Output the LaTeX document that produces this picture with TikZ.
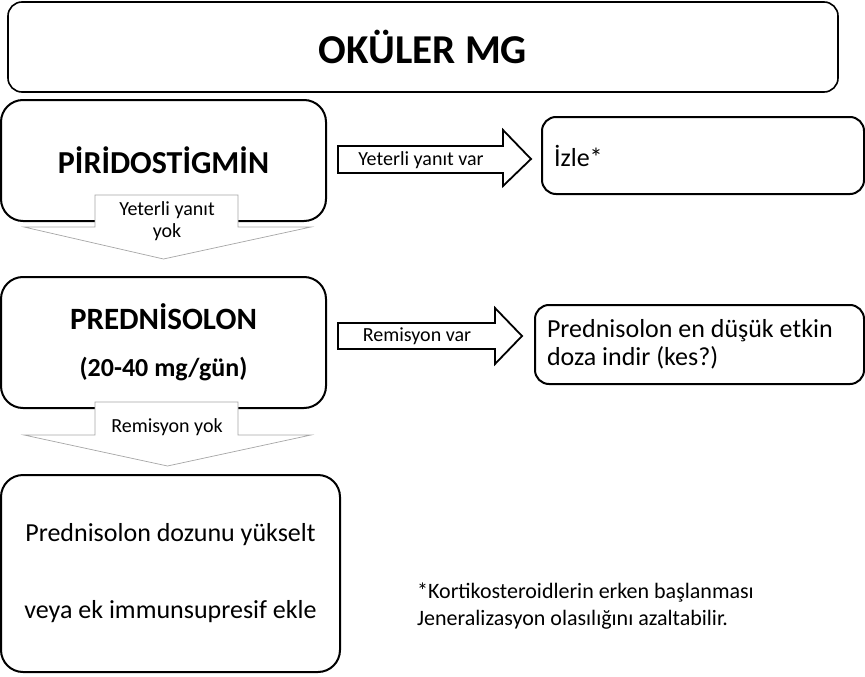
\documentclass[tikz,border=0pt]{standalone}
\usepackage{fontspec}
\setmainfont{Carlito}
\usetikzlibrary{calc}

\begin{document}
\begin{tikzpicture}[
  x=1pt,y=-1pt,
  titlebox/.style={draw=black,fill=white,rounded corners=14pt,line width=1.6pt,
    minimum width=830pt,minimum height=90pt,font=\fontsize{41}{48}\selectfont\bfseries},
  stepbox/.style={draw=black,fill=white,rounded corners=22pt,line width=2pt,
    align=center,minimum width=325pt},
  resultbox/.style={draw=black,fill=white,rounded corners=14pt,line width=2pt,
    align=flush left,inner xsep=12pt,font=\fontsize{26}{28}\selectfont},
  downarrow/.style={draw=gray!70,fill=white,line width=.7pt},
  rightarrow/.style={draw=black,fill=white,line width=1.8pt,line join=miter},
  arrowtext/.style={font=\fontsize{20}{22}\selectfont,align=center,inner sep=0pt},
  note/.style={font=\fontsize{22}{27}\selectfont,align=left,anchor=west,inner sep=0pt}
]
  \useasboundingbox (0,0) rectangle (865,677);

  \node[titlebox] (title) at (423,47) {OKÜLER MG};

  \node[stepbox,minimum height=121pt,font=\fontsize{32}{36}\selectfont\bfseries]
    (pirido) at (163.5,160.5) {PİRİDOSTİGMİN};
  \node[stepbox,minimum height=131pt,font=\fontsize{31}{36}\selectfont\bfseries]
    (pred) at (163.5,342.5) {PREDNİSOLON\\[11pt]{\fontsize{26}{30}\selectfont (20-40 mg/gün)}};
  \node[stepbox,minimum width=339pt,minimum height=197pt,font=\fontsize{26}{77}\selectfont]
    (escal) at (170.5,573.5) {Prednisolon dozunu yükselt\\veya ek immunsupresif ekle};

  \node[resultbox,text width=298pt,minimum height=77pt] (izle) at (703,155.5) {İzle*};
  \node[resultbox,text width=305pt,minimum height=79pt] (taper) at (699.5,344.5)
    {Prednisolon en düşük etkin\\doza indir (kes?)};

  % block arrows
  \draw[downarrow] (95,195) -- (238,195) -- (238,227) -- (311,227)
    -- ($(pred.north)+(0,-17)$) -- (24,227) -- (95,227) -- cycle;
  \node[arrowtext] (nopir) at (167,221) {Yeterli yanıt\\yok};

  \draw[downarrow] (95,402) -- (238,402) -- (238,435) -- (311,435)
    -- ($(escal.north)+(-3,-8)$) -- (24,435) -- (95,435) -- cycle;
  \node[arrowtext] (nopred) at (167,427) {Remisyon yok};

  \draw[rightarrow] (338,146) -- (503,146) -- (503,130) -- ($(izle.west)+(-10,3.5)$)
    -- (503,186) -- (503,173) -- (338,173) -- cycle;
  \node[arrowtext] (yespir) at (421,160) {Yeterli yanıt var};

  \draw[rightarrow] (338,323) -- (495,323) -- (495,308) -- ($(taper.west)+(-12,-8.5)$)
    -- (495,364) -- (495,349) -- (338,349) -- cycle;
  \node[arrowtext] (yespred) at (417,336) {Remisyon var};

  \node[note] (foot) at (417,606.5) {*Kortikosteroidlerin erken başlanması\\Jeneralizasyon olasılığını azaltabilir.};
\end{tikzpicture}
\end{document}
